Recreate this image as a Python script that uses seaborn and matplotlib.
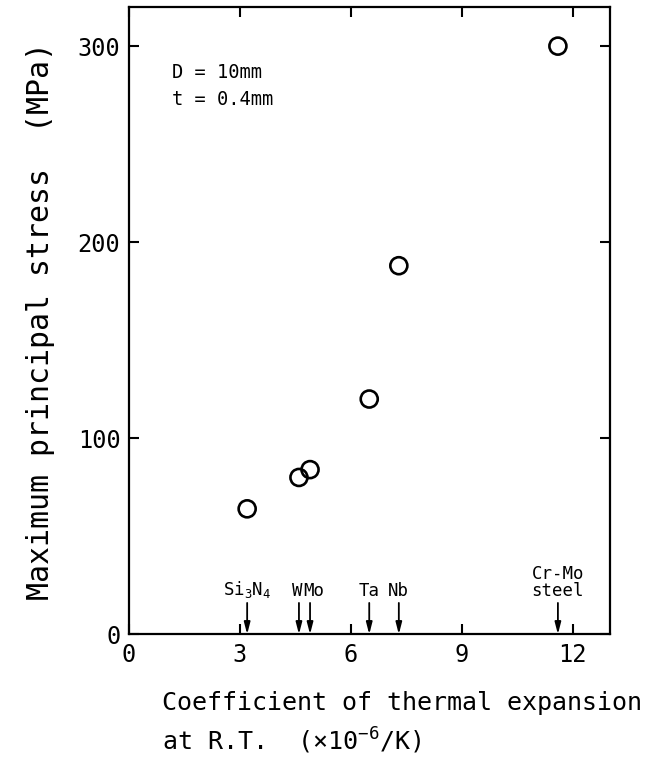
import matplotlib
matplotlib.use("Agg")
import matplotlib.pyplot as plt
import seaborn as sns
import pandas as pd

# data
materials = ["Si$_3$N$_4$", "W", "Mo", "Ta", "Nb", "Cr-Mo\nsteel"]
cte = [3.2, 4.6, 4.9, 6.5, 7.3, 11.6]
stress = [64, 80, 84, 120, 188, 300]
x_ticks = [0, 3, 6, 9, 12]
y_ticks = [0, 100, 200, 300]

sns.set_style("ticks")
plt.rcParams["font.family"] = ["DejaVu Sans Mono", "DejaVu Sans"]
plt.rcParams["mathtext.default"] = "regular"
for k in ["text.color", "axes.labelcolor", "xtick.color", "ytick.color",
          "axes.edgecolor"]:
    plt.rcParams[k] = "black"

df = pd.DataFrame({"cte": cte, "stress": stress, "material": materials})

fig = plt.figure(figsize=(6.57, 7.67), dpi=100)
ax = fig.add_axes([0.196, 0.173, 0.732, 0.818])

sns.scatterplot(data=df, x="cte", y="stress", ax=ax, marker="o", s=150,
                facecolor="none", edgecolor="black", linewidth=1.9, zorder=3)

ax.set_xlim(0, 13)
ax.set_ylim(0, 320)
ax.set_xticks(x_ticks)
ax.set_yticks(y_ticks)
ax.tick_params(direction="in", length=7, width=1.5, top=True, right=True,
               labelsize=17, pad=6)
for sp in ax.spines.values():
    sp.set_linewidth(1.6)
    sp.set_visible(True)

ax.set_ylabel("Maximum principal stress  (MPa)", fontsize=21.5, labelpad=16)
lbl = ax.set_xlabel("Coefficient of thermal expansion\nat R.T.  (×10$^{-6}$/K)",
                    fontsize=18, linespacing=1.45)
lbl.set_horizontalalignment("left")
lbl.set_verticalalignment("top")
lbl.set_multialignment("left")
ax.xaxis.set_label_coords(0.069, -0.09)

# material arrows
label_shift = {"W": -1.5, "Mo": 3.0}
for name, xv in zip(materials, cte):
    ax.annotate("", xy=(xv, 0), xytext=(xv, 16),
                arrowprops=dict(arrowstyle="-|>,head_width=0.18,head_length=0.7",
                                color="black", lw=1.3, shrinkA=0, shrinkB=0))
    ax.annotate(name, xy=(xv, 17.5), xytext=(label_shift.get(name, 0), 0),
                textcoords="offset points", ha="center", va="bottom",
                fontsize=12.5, linespacing=0.9)

ax.text(0.09, 0.91, "D = 10mm\nt = 0.4mm", transform=ax.transAxes,
        ha="left", va="top", fontsize=13.5, linespacing=1.5)

fig.savefig("out.png", dpi=100)
